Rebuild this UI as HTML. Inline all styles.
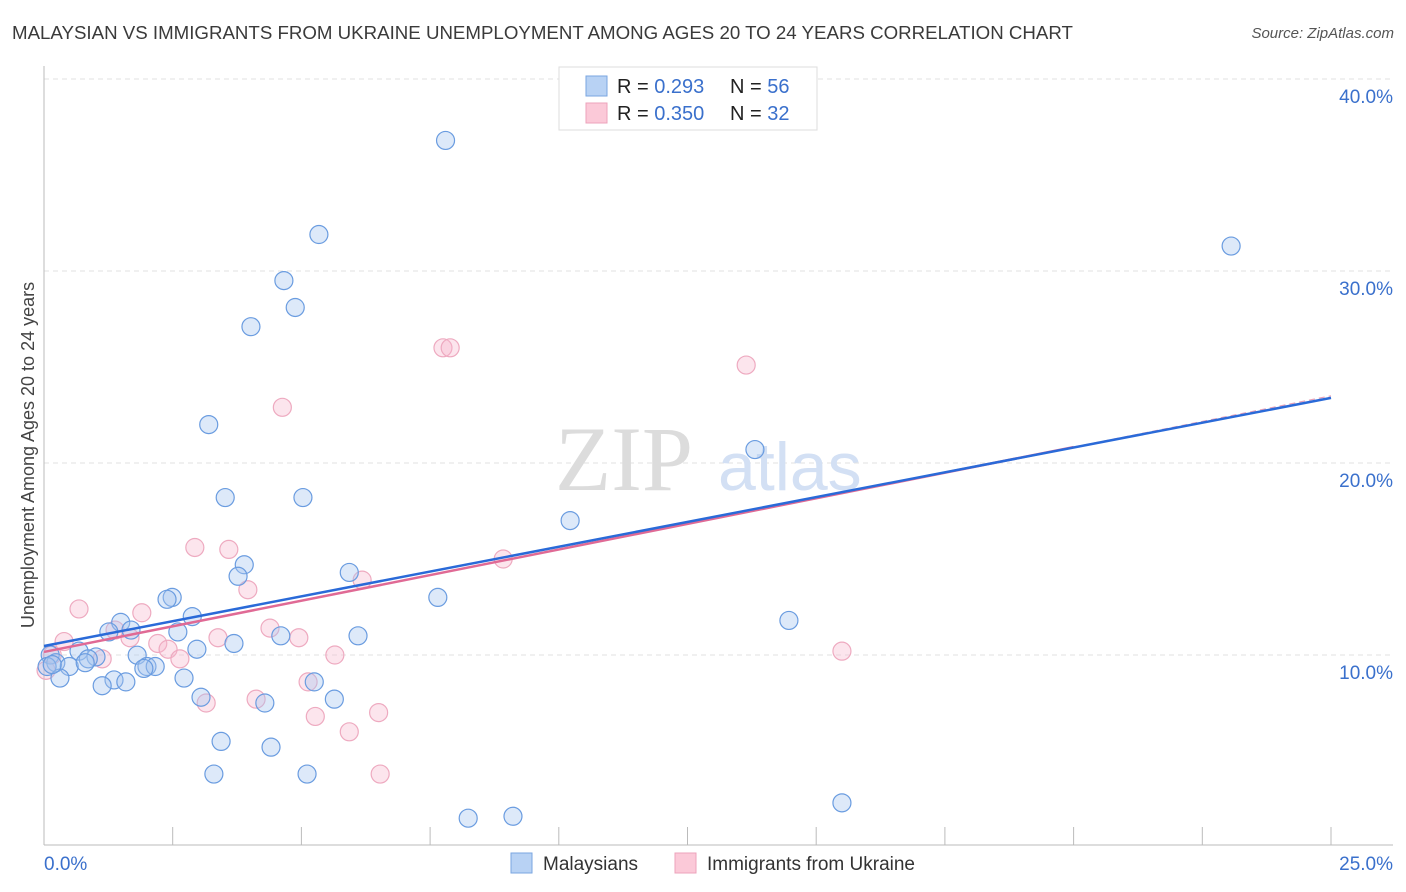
<!DOCTYPE html>
<html><head><meta charset="utf-8"><style>
body{margin:0;background:#fff;font-family:"Liberation Sans",sans-serif;}
#wrap{position:relative;width:1406px;height:892px;}
.t{position:absolute;white-space:nowrap}
</style></head><body>
<div id="wrap">
<div class="t" style="left:12px;top:22px;font-size:18.7px;color:#3a3a3a">MALAYSIAN VS IMMIGRANTS FROM UKRAINE UNEMPLOYMENT AMONG AGES 20 TO 24 YEARS CORRELATION CHART</div>
<div class="t" style="right:12px;top:25px;font-size:15px;color:#555;font-style:italic">Source: ZipAtlas.com</div>
<svg id="chart" width="1406" height="892" style="position:absolute;left:0;top:0"></svg>
</div>
<script>
const xTicks=[0,2.5,5,7.5,10,12.5,15,17.5,20,22.5,25];
const yTicks=[10,20,30,40];
const blueX=[7.8,5.34,4.66,4.88,4.02,3.2,3.52,5.03,13.81,10.22,23.06,3.89,3.77,5.93,2.49,2.39,2.88,2.6,1.49,1.69,1.26,4.6,6.1,7.65,14.47,3.69,2.97,0.68,0.12,1.01,1.81,0.86,0.23,0.06,0.49,0.8,2.0,2.16,1.94,0.31,2.72,1.36,1.59,1.13,5.25,3.05,4.29,5.64,3.44,4.41,3.3,5.11,8.24,9.11,15.5,0.16];
const blueY=[36.8,31.9,29.5,28.1,27.1,22.0,18.2,18.2,20.7,17.0,31.3,14.7,14.1,14.3,13.0,12.9,12.0,11.2,11.7,11.3,11.2,11.0,11.0,13.0,11.8,10.6,10.3,10.2,10.0,9.9,9.99,9.8,9.6,9.4,9.4,9.6,9.4,9.4,9.3,8.8,8.8,8.7,8.6,8.4,8.6,7.8,7.5,7.7,5.5,5.2,3.8,3.8,1.5,1.6,2.3,9.5];
const pinkX=[7.75,7.89,13.64,4.63,2.93,3.59,8.92,6.18,3.96,0.68,1.9,1.38,1.67,4.39,3.38,4.95,2.21,2.41,0.39,0.16,1.13,2.64,5.65,15.5,5.13,4.12,3.15,5.27,6.5,5.93,6.53,0.04];
const pinkY=[26.0,26.0,25.1,22.9,15.6,15.5,15.0,13.9,13.4,12.4,12.2,11.3,10.9,11.4,10.9,10.9,10.6,10.3,10.7,10.0,9.8,9.8,10.0,10.2,8.6,7.7,7.5,6.8,7.0,6.0,3.8,9.2];
const blueLine=[10.47,23.39];
const pinkLine=[10.16,20.83,23.5];
const L=44,R=1331,T=79,B=847;
const sx=v=>L+(R-L)*v/25, sy=v=>B-(B-T)*v/40;
const svg=document.getElementById('chart');const NS='http://www.w3.org/2000/svg';
function mk(tag,a,p){const e=document.createElementNS(NS,tag);for(const k in a)e.setAttribute(k,a[k]);(p||svg).appendChild(e);return e;}
yTicks.forEach(v=>{
 const g=mk('line',{x1:L,x2:1393,y1:sy(v),y2:sy(v),stroke:'#e2e2e2','stroke-dasharray':'5,4'});
 
 
 const t=mk('text',{x:1393,y:sy(v)+24,'text-anchor':'end','font-size':'19',fill:'#3a70cc','font-family':'Liberation Sans, sans-serif'});t.textContent=v.toFixed(1)+'%';
 
 
});
const ax=mk('line',{x1:L,x2:L,y1:66,y2:845,stroke:'#bbb'});


const bx=mk('line',{x1:L,x2:1393,y1:845,y2:845,stroke:'#bbb'});


xTicks.forEach(v=>{const tk=mk('line',{x1:sx(v),x2:sx(v),y1:827,y2:845,stroke:'#bbb'});
 
 });
[[0,'start','0.0%'],[25,'end','25.0%']].forEach(([v,a,s])=>{const t=mk('text',{x:v==0?44:1393,y:870,'text-anchor':a,'font-size':'19',fill:'#3a70cc','font-family':'Liberation Sans, sans-serif'});t.textContent=s;
 
 });
const yt=mk('text',{x:0,y:0,transform:'translate(34,455) rotate(-90)','text-anchor':'middle','font-size':'18',fill:'#444','font-family':'Liberation Sans, sans-serif'});yt.textContent='Unemployment Among Ages 20 to 24 years';


const wm=mk('text',{x:555,y:490,'font-size':'92',fill:'#dcdcdc','font-family':'Liberation Serif, serif'});wm.textContent='ZIP';


const wm2=mk('text',{x:718,y:490,'font-size':'68',fill:'#d3e0f4','font-family':'Liberation Sans, sans-serif'});wm2.textContent='atlas';


pinkX.forEach((x,i)=>{const c=mk('circle',{cx:sx(x),cy:sy(pinkY[i]),r:9,fill:'rgba(246,180,202,0.35)',stroke:'#eeaac0','stroke-width':1.2});
 
 });
blueX.forEach((x,i)=>{const c=mk('circle',{cx:sx(x),cy:sy(blueY[i]),r:9,fill:'rgba(165,198,240,0.38)',stroke:'#6a9ce0','stroke-width':1.2});
 
 });
const pl=mk('line',{x1:sx(0),y1:sy(pinkLine[0]),x2:sx(20),y2:sy(pinkLine[1]),stroke:'#e06a95','stroke-width':2.5});


const pd=mk('line',{x1:sx(20),y1:sy(pinkLine[1]),x2:sx(25),y2:sy(pinkLine[2]),stroke:'#e8a0b8','stroke-width':1.2,'stroke-dasharray':'6,4'});


const bl=mk('line',{x1:sx(0),y1:sy(blueLine[0]),x2:sx(25),y2:sy(blueLine[1]),stroke:'#2a6ad8','stroke-width':2.5});


const lg=mk('g',{});


mk('rect',{x:559,y:67,width:258,height:63,fill:'#fff',stroke:'#ddd'},lg);
mk('rect',{x:586,y:76,width:21,height:20,fill:'#b8d2f4',stroke:'#7aa6e0'},lg);
mk('rect',{x:586,y:103,width:21,height:20,fill:'#fbc9d8',stroke:'#eda3bb'},lg);
[[93,'0.293','56'],[120,'0.350','32']].forEach(([y,r,n],i)=>{
 const t=mk('text',{x:617,y:y,'font-size':'20','font-family':'Liberation Sans, sans-serif',fill:'#222'},lg);
 t.innerHTML='R = <tspan fill="#3a70cc">'+(i==0?' ':'')+r+'</tspan><tspan x="730">N = </tspan><tspan fill="#3a70cc">'+n+'</tspan>';
 
 
});
[[511,'#b8d2f4','#7aa6e0','Malaysians'],[675,'#fbc9d8','#eda3bb','Immigrants from Ukraine']].forEach(([x,f,s,l])=>{
 const r=mk('rect',{x:x,y:853,width:21,height:20,fill:f,stroke:s});
 
 
 const t=mk('text',{x:x+32,y:870,'font-size':'19',fill:'#333','font-family':'Liberation Sans, sans-serif'});t.textContent=l;
 
 
});
</script>
</body></html>
